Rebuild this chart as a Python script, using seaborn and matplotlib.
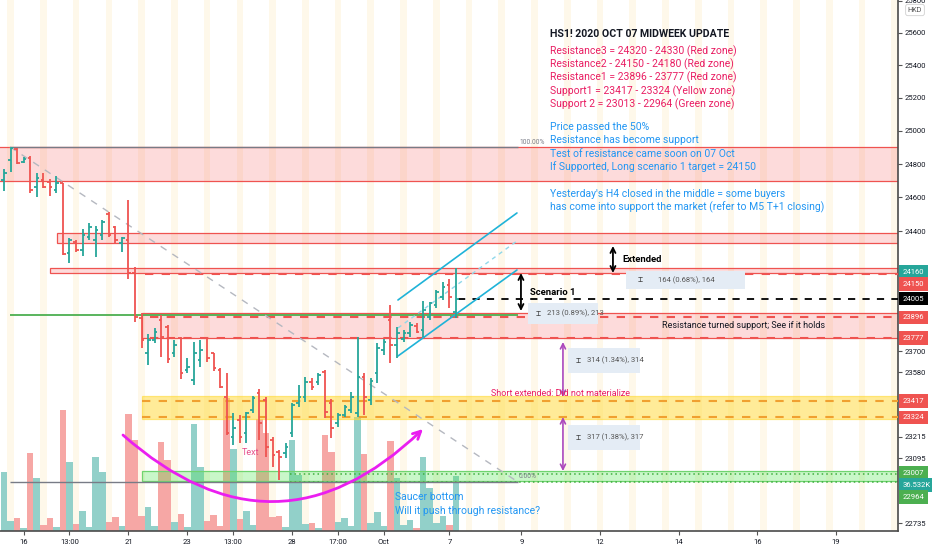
import numpy as np
import pandas as pd
import matplotlib
matplotlib.use("Agg")
import matplotlib.pyplot as plt
import seaborn as sns
from matplotlib.patches import Rectangle
from matplotlib.ticker import FixedLocator, FixedFormatter, NullLocator
import matplotlib.transforms as mtransforms

# ---------------- data ----------------
opens = [24704, 24824, 24891, 24812, 24836, 24663, 24704, 24692, 24645, 24686,
         24272, 24336, 24289, 24366, 24348, 24378, 24501, 24425, 24330, 24348,
         24154, 23891, 23691, 23765, 23880, 23840, 23691, 23777, 23593, 23536,
         23650, 23777, 23691, 23593, 23439, 23213, 23309, 23236, 23365, 23462,
         23422, 23196, 23129, 23123, 23236, 23405, 23439, 23524, 23524, 23582,
         23405, 23292, 23337, 23365, 23348, 23553, 23422, 23576, 23708, 23880,
         23737, 23771, 23805, 23845, 23823, 23897, 23967, 24014, 24084, 23926]
highs = [24770, 24903, 24897, 24842, 24848, 24746, 24746, 24710, 24728, 24686,
         24360, 24348, 24413, 24448, 24431, 24466, 24513, 24431, 24366, 24585,
         24189, 23920, 23800, 23834, 23909, 23851, 23765, 23782, 23662, 23754,
         23765, 23782, 23691, 23604, 23576, 23348, 23337, 23354, 23445, 23485,
         23439, 23213, 23140, 23179, 23405, 23507, 23553, 23547, 23576, 23593,
         23428, 23348, 23394, 23468, 23782, 23576, 23547, 23748, 23771, 23967,
         23840, 23823, 23868, 23862, 23990, 23984, 24055, 24101, 24119, 24184]
lows = [24639, 24752, 24800, 24806, 24627, 24603, 24657, 24609, 24627, 24260,
        24213, 24277, 24254, 24348, 24248, 24348, 24366, 24330, 24277, 24119,
        23868, 23719, 23622, 23748, 23668, 23633, 23668, 23542, 23576, 23507,
        23610, 23639, 23587, 23490, 23224, 23168, 23179, 23179, 23348, 23196,
        23101, 23045, 22973, 23095, 23213, 23382, 23411, 23479, 23507, 23320,
        23208, 23270, 23326, 23348, 23326, 23337, 23394, 23519, 23679, 23633,
        23662, 23754, 23782, 23805, 23782, 23880, 23950, 23996, 23950, 23891]
closes = [24746, 24897, 24806, 24830, 24645, 24716, 24663, 24663, 24686, 24266,
          24348, 24289, 24378, 24425, 24407, 24454, 24378, 24348, 24360, 24154,
          23897, 23765, 23765, 23811, 23782, 23656, 23737, 23576, 23610, 23691,
          23708, 23662, 23604, 23496, 23236, 23264, 23213, 23348, 23434, 23292,
          23157, 23112, 23101, 23157, 23394, 23439, 23524, 23496, 23564, 23354,
          23264, 23337, 23382, 23439, 23553, 23439, 23530, 23719, 23754, 23737,
          23805, 23805, 23851, 23811, 23938, 23978, 24043, 24072, 24014, 24005]
volumes = [39200, 6640, 8630, 2000, 51800, 35200, 4000, 8630, 2660, 80300,
           45800, 4650, 13300, 2660, 49100, 39200, 6000, 9300, 3300, 77700,
           60400, 10000, 15900, 3300, 59100, 47100, 6000, 11300, 2660, 71000,
           42500, 6640, 10600, 3300, 88300, 54400, 8000, 13300, 4000, 74400,
           65100, 9300, 10000, 2660, 60400, 37200, 4650, 5300, 2000, 63700,
           52500, 6000, 8630, 3300, 75700, 51100, 5300, 12600, 3300, 59800,
           35200, 4000, 7300, 2000, 49100, 28600, 5300, 10000, 4000, 36532]

x_tick_pos = [3, 10, 19, 28, 35, 44, 51, 58, 68, 79, 91, 103, 115, 127]
x_tick_labels = ["16", "13:00", "21", "23", "13:00", "28", "17:00", "Oct", "7",
                 "9", "12", "14", "16", "19"]
price_ticks = [25800, 25600, 25400, 25200, 25000, 24800, 24600, 24400,
               23700, 23580, 23215, 23095, 22735]

zone_top = [24698, 24903]
zone_r3 = [24330, 24390]
zone_r2 = [24154, 24184]
zone_r1 = [23777, 23920]
zone_s1 = [23315, 23445]
zone_s2 = [22967, 23022]
level_r2 = 24150
levels_r1 = [23896, 23777]
levels_s1 = [23417, 23324]
levels_s2 = [23007, 22964]
level_last = 24005
fib_levels = [24903, 23909, 22962]  # 100%, 50%, 0%

header = "HS1! 2020 OCT 07 MIDWEEK UPDATE"
red_lines = ["Resistance3 = 24320 - 24330 (Red zone)",
             "Resistance2 - 24150 - 24180 (Red zone)",
             "Resistance1 = 23896 - 23777 (Red zone)",
             "Support1 = 23417 - 23324 (Yellow zone)",
             "Support 2 = 23013 - 22964 (Green zone)"]
blue_lines = ["Price passed the 50%",
              "Resistance has become support",
              "Test of resistance came soon on 07 Oct",
              "If Supported, Long scenario 1 target = 24150",
              "Yesterday's H4 closed in the middle = some buyers",
              "has come into support the market (refer to M5 T+1 closing)"]

# ---------------- style ----------------
sns.set_style("white")
plt.rcParams['font.family'] = ['Liberation Sans Narrow', 'Roboto', 'DejaVu Sans']

TEAL = '#26a69a'
RED = '#ef5350'
GREEN = '#4caf50'
PINK = '#e91e63'
BLUE = '#2196f3'
W, H = 932, 550

def X(px):  # pixel column -> bar index (for placing drawings)
    return (px - 4) / 6.55

def Y(py):  # pixel row -> price (for placing drawings)
    return 25600 * np.exp(-(py - 33) / 4128)

fig = plt.figure(figsize=(W / 100, H / 100), dpi=100)
ax2 = fig.add_axes([0, 19 / H, 898 / W, 531 / H])
ax = ax2.twinx()

idx = np.arange(len(opens))
o = np.array(opens); c = np.array(closes)
up = c >= o
XMIN, XMAX = -0.61, 136.5

# background session stripes
for s in np.arange(1, 137, 5):
    ax2.axvspan(s - 0.5, s + 0.5, color='#fef8ea', lw=0, zorder=0)

# volume
df = pd.DataFrame({'idx': idx, 'vol': volumes, 'up': up})
sns.barplot(data=df[df['up']], x='idx', y='vol', color='#92d0c9',
            native_scale=True, width=1.0, saturation=1, errorbar=None,
            linewidth=0, ax=ax2)
sns.barplot(data=df[~df['up']], x='idx', y='vol', color='#f6a7a5',
            native_scale=True, width=1.0, saturation=1, errorbar=None,
            linewidth=0, ax=ax2)
ax2.set_ylim(0, 352600)
ax2.set_xlim(XMIN, XMAX)
ax2.set_yticks([])
ax2.set_xlabel('')
ax2.set_ylabel('')

# price axis
ax.set_yscale('log')
ax.set_ylim(22691, 25805)
ax.set_xlim(XMIN, XMAX)

def zone(lo, hi, x0, fc, ec, lw=0.9):
    ax.add_patch(Rectangle((x0, lo), XMAX + 5 - x0, hi - lo, fc=fc, ec=ec, lw=lw, zorder=2))

zone(zone_top[0], zone_top[1], XMIN - 1, (0.96, 0.3, 0.3, 0.2), RED)
zone(zone_r3[0], zone_r3[1], X(57), (0.96, 0.3, 0.3, 0.2), RED)
zone(zone_r2[0], zone_r2[1], X(50), (0.96, 0.3, 0.3, 0.2), RED)
zone(zone_r1[0], zone_r1[1], X(142), (0.96, 0.3, 0.3, 0.2), RED)
zone(zone_s1[0], zone_s1[1], X(142), (1.0, 0.85, 0.2, 0.5), (1.0, 0.85, 0.2, 0.6))
zone(zone_s2[0], zone_s2[1], X(142), (0.3, 0.9, 0.3, 0.3), '#6fd46f')

dash = dict(lw=1.5, ls=(0, (4, 4)), zorder=3)
ax.hlines(level_r2, X(145), XMAX, color=RED, **dash)
ax.hlines(levels_r1, X(150), XMAX, color=RED, **dash)
ax.hlines(levels_s1, X(142), XMAX, color='#f0a030', **dash)
ax.hlines(levels_s2, X(290), XMAX, color='#3fae3f', lw=1.1, ls=(0, (1, 2)), zorder=3)
ax.hlines(level_last, X(458), XMAX, color='black', lw=1.3, ls=(0, (4, 4)), zorder=3)

# fib retracement
ax.hlines([fib_levels[0], fib_levels[2]], X(10), X(518), color='#787b86', lw=1.0, zorder=3)
ax.hlines(fib_levels[1], X(10), X(518), color=GREEN, lw=1.3, zorder=3)
ax.plot([X(10), X(518)], [fib_levels[0], fib_levels[2]], color='#b5b8c0',
        lw=1.0, ls=(0, (5, 5)), zorder=3)
ax.text(X(519), Y(143), "100.00%", fontsize=4.8, color='#787b86', va='center', ha='left', zorder=4)
ax.text(X(519), Y(476), "0.00%", fontsize=4.8, color='#787b86', va='center', ha='left', zorder=4)

# OHLC bars
cols = np.where(up, TEAL, RED)
ax.vlines(idx, lows, highs, colors=cols, lw=1.3, zorder=5)
ax.hlines(opens, idx - 0.4, idx, colors=cols, lw=1.3, zorder=5)
ax.hlines(closes, idx, idx + 0.4, colors=cols, lw=1.3, zorder=5)

# parallel channel
chan = '#1fb3d8'
ax.plot([X(398), X(517)], [Y(300), Y(213)], color=chan, lw=1.2, zorder=4)
ax.plot([X(398), X(517)], [Y(356), Y(270)], color=chan, lw=1.2, zorder=4)
ax.plot([X(398), X(517)], [Y(328), Y(241)], color='#8fd8ea', lw=1.0, ls=(0, (3, 3)), zorder=4)

# arrows
def darrow(px, py1, py2, color, lw=1.3):
    ax.annotate('', xy=(X(px), Y(py1)), xytext=(X(px), Y(py2)),
                arrowprops=dict(arrowstyle='<->', color=color, lw=lw,
                                mutation_scale=9, shrinkA=0, shrinkB=0), zorder=6)

darrow(613, 246, 273, 'black')
darrow(521, 273, 311, 'black')
darrow(563, 342, 397, '#ab47bc', 1.2)
darrow(563, 417, 471, '#ab47bc', 1.2)

ax.annotate('', xy=(X(423), Y(429)), xytext=(X(123), Y(435)),
            arrowprops=dict(arrowstyle='->', connectionstyle='arc3,rad=0.46',
                            color='#ea1ef0', lw=2.0, mutation_scale=14,
                            shrinkA=0, shrinkB=0), zorder=6)

ax.text(X(622), Y(260), "Extended", fontsize=6.8, fontweight='bold', color='black', va='center', zorder=7)
ax.text(X(530), Y(292), "Scenario 1", fontsize=6.8, fontweight='bold', color='black', va='center', zorder=7)
ax.text(X(662), Y(325), "Resistance turned support; See if it holds", fontsize=6.5,
        color='#131722', va='center', zorder=7)
ax.text(X(491), Y(393), "Short extended: Did not materialize", fontsize=6.5,
        color=PINK, va='center', zorder=7)
ax.text(X(242), Y(452), "Text", fontsize=6.5, color='#e7508a', va='center', zorder=7)
ax.text(X(395), Y(497), "Saucer bottom", fontsize=7.5, color=BLUE, va='center', zorder=7)
ax.text(X(395), Y(511), "Will it push through resistance?", fontsize=7.5, color=BLUE, va='center', zorder=7)

# axes styling
ax.yaxis.set_major_locator(FixedLocator(price_ticks))
ax.yaxis.set_major_formatter(FixedFormatter([str(t) for t in price_ticks]))
ax.yaxis.set_minor_locator(NullLocator())
ax.tick_params(axis='y', which='major', labelsize=5.5, labelcolor='#131722',
               color='#555', length=3, width=0.8, pad=2, right=True, labelright=True,
               left=False, labelleft=False)
ax2.set_xticks(x_tick_pos)
ax2.set_xticklabels(x_tick_labels)
ax2.tick_params(axis='x', labelsize=5.5, labelcolor='#131722', color='#555',
                length=3, width=0.8, pad=3, bottom=True)
for a in (ax, ax2):
    for s in ('top', 'left'):
        a.spines[s].set_visible(False)
ax2.spines['right'].set_visible(False)
ax.spines['bottom'].set_visible(False)
ax.spines['right'].set_color('#4a4a4a'); ax.spines['right'].set_linewidth(1.2)
ax2.spines['bottom'].set_color('#4a4a4a'); ax2.spines['bottom'].set_linewidth(1.2)

# right-axis price labels
trans = mtransforms.blended_transform_factory(ax.transAxes, ax.transData)
right_labels = [("24160", 24160, TEAL), ("24150", Y(284), RED),
                ("24005", level_last, 'black'), ("23896", levels_r1[0], RED),
                ("23777", levels_r1[1], RED), ("23417", levels_s1[0], RED),
                ("23324", levels_s1[1], RED), ("23007", Y(473), GREEN),
                ("36.532K", Y(485), TEAL), ("22964", Y(497), GREEN)]
for txt, yv, colr in right_labels:
    ax.text(1.005, yv, txt, transform=trans, ha='left', va='center', fontsize=5.5,
            color='white', zorder=10, clip_on=False,
            bbox=dict(boxstyle='square,pad=0.5', fc=colr, ec='none'))

# text block
def ftext(px, py, s, **kw):
    fig.text(px / W, 1 - py / H, s, va='center', ha='left', **kw)

ftext(550, 34, header, fontsize=7.6, fontweight='bold', color='#131722')
for s, py in zip(red_lines, [51.7, 64.5, 77.5, 90.8, 104]):
    ftext(550, py, s, fontsize=7.5, color=PINK)
for s, py in zip(blue_lines, [127.3, 140.2, 153.6, 166.7, 194, 207.3]):
    ftext(550, py, s, fontsize=7.5, color=BLUE)

# measurement boxes
def mbox(x0, y0, x1, y1, s, ioff, toff):
    fig.add_artist(Rectangle((x0 / W, 1 - y1 / H), (x1 - x0) / W, (y1 - y0) / H,
                             transform=fig.transFigure, fc='#e4ecf5', ec='none', zorder=8))
    ftext(x0 + ioff, (y0 + y1) / 2, "\u2336", fontsize=6, color='#444', zorder=9,
          family=['DejaVu Sans Mono', 'DejaVu Sans'])
    ftext(x0 + toff, (y0 + y1) / 2, s, fontsize=5.5, color='#555', zorder=9)

mbox(626, 271, 745, 289, "164 (0.68%), 164", 12, 32)
mbox(528, 303, 598, 324, "213 (0.89%), 213", 8, 19)
mbox(568, 348, 640, 373, "314 (1.34%), 314", 8, 19)
mbox(568, 425, 640, 450, "317 (1.38%), 317", 8, 19)

fig.text(915 / W, 1 - 10 / H, "HKD", fontsize=5.2, color='#555', ha='center', va='center',
         bbox=dict(boxstyle='round,pad=0.3', fc='white', ec='#d0d0d0', lw=0.6))

fig.savefig("out.png", dpi=100)
